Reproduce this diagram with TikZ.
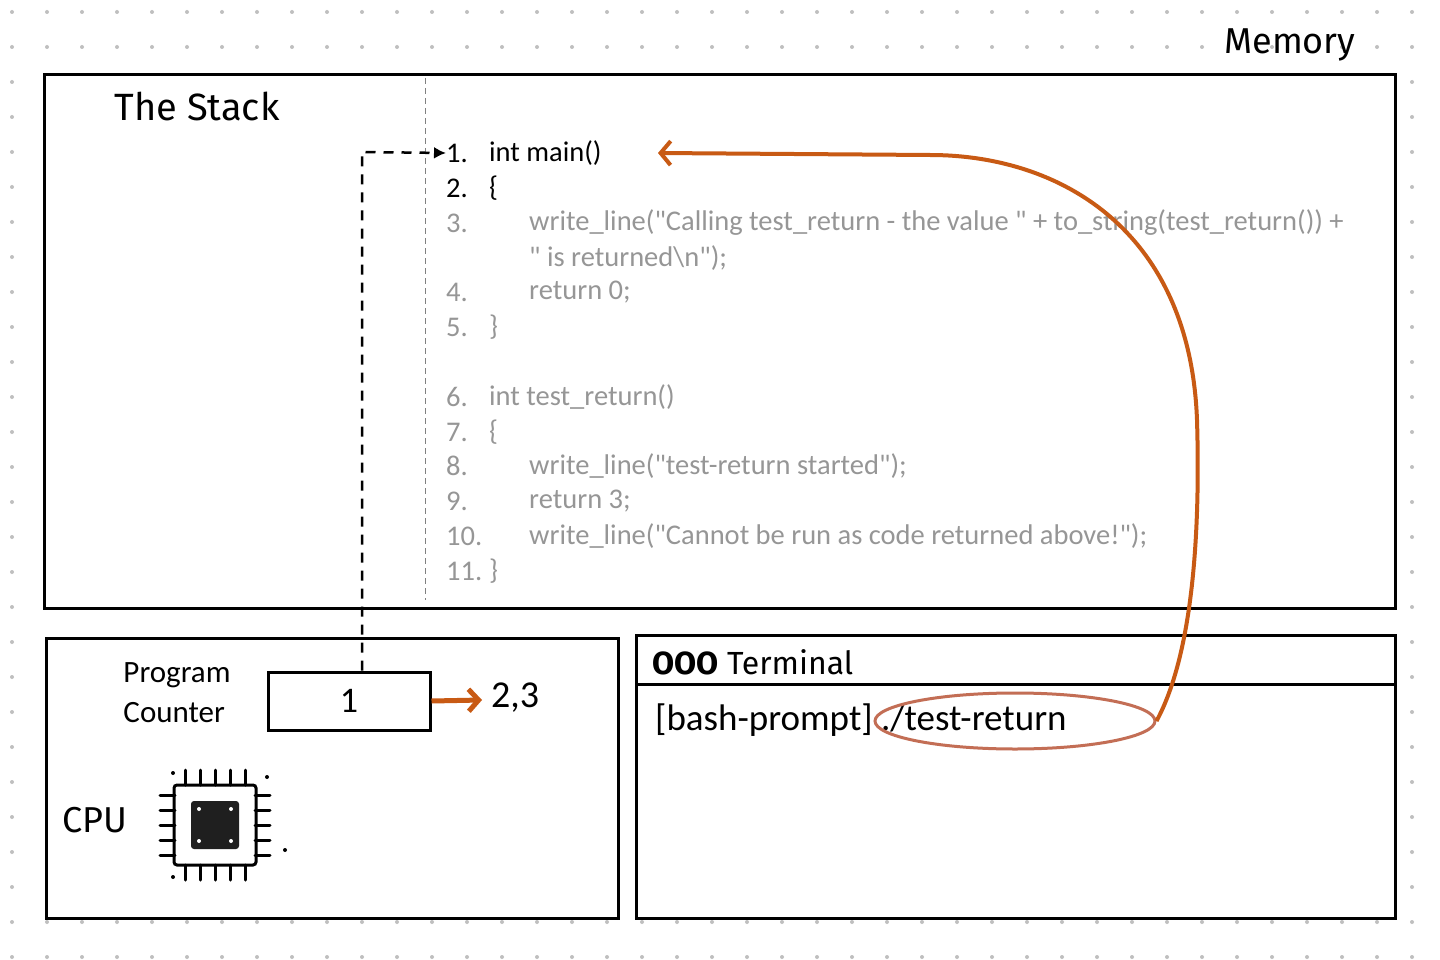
\documentclass[tikz,border=0pt]{standalone}
\usepackage{fontspec}
\setmainfont{Carlito}
\newfontfamily\codefont{Carlito}[Ligatures=TeXOff]
\newfontfamily\hand{Fira Sans}
\usetikzlibrary{arrows.meta,shapes.geometric}
\definecolor{org}{RGB}{200,90,20}
\definecolor{ell}{RGB}{195,110,85}
\definecolor{codegray}{RGB}{150,150,150}
\begin{document}
\begin{tikzpicture}[x=1pt,y=-1pt,
  box/.style={draw=black,line width=3pt},
  code/.style={anchor=west,font=\codefont\fontsize{28.5}{32}\selectfont,inner sep=0pt,text=codegray},
  codeb/.style={code,text=black},
  hand/.style={font=\hand\fontsize{36}{40}\selectfont,inner sep=0pt}]
\useasboundingbox (0,0) rectangle (1440,960);
\fill[white] (0,0) rectangle (1440,960);
\foreach \i in {0,...,41}{\foreach \j in {0,...,27}{\fill[black!25] (12+35*\i,12+35*\j) circle (2);}}
% memory
\draw[box,fill=white] (44,75) rectangle (1395,608);
\node[hand] (memt) at (1290,45) {Memory};
\node[hand,font=\hand\fontsize{38}{40}\selectfont] (stack) at (197,106) {The Stack};
\draw[black!50,dash pattern=on 6pt off 4pt,line width=1pt] (425,78) -- (425,600);
\foreach \n/\y in {1/153,2/188} {\node[codeb] (n\n) at (446,\y) {\n.};}
\foreach \n/\y in {3/223,4/292,5/327,6/397,7/432,8/466,9/501,10/536,11/571} {\node[code] (n\n) at (446,\y) {\n.};}
\node[codeb] (l1) at (489,153) {int main()};
\node[codeb] (l2) at (489,188) {\{};
\node[code] (l3) at (529,223) {write\_line("Calling test\_return - the value " + to\_string(test\_return()) +};
\node[code] (l3b) at (529,258) {" is returned\textbackslash n");};
\node[code] (l4) at (529,292) {return 0;};
\node[code] (l5) at (489,327) {\}};
\node[code] (l6) at (489,397) {int test\_return()};
\node[code] (l7) at (489,432) {\{};
\node[code] (l8) at (529,466) {write\_line("test-return started");};
\node[code] (l9) at (529,501) {return 3;};
\node[code] (l10) at (529,536) {write\_line("Cannot be run as code returned above!");};
\node[code] (l11) at (489,571) {\}};
% cpu
\draw[box,fill=white] (46,638) rectangle (618,918);
\node[align=left,font=\fontsize{31}{40}\selectfont,inner sep=0pt] (pc) at (177,693) {Program\\Counter};
\node[box,minimum width=162pt,minimum height=58pt,font=\fontsize{36}{40}\selectfont,fill=white] (pcb) at (349,701) {1};
\node[font=\fontsize{38}{40}\selectfont,inner sep=0pt,anchor=west] (v23) at (491,698) {2,3};
\draw[org,line width=5pt,-{Straight Barb[length=10pt,width=22pt]}] (pcb.east) -- (482,700);
\coordinate (c1) at (362,152);
\draw[line width=2.5pt,dash pattern=on 10pt off 8pt,-{Latex[length=12pt,width=12pt]}] (pcb.north -| 362,0) -- (c1) -- (n1.west);
\node[hand] (cpu) at (95,820) {CPU};
% chip
\begin{scope}[shift={(215,825)},line width=3pt,line cap=round]
\draw[fill=white,rounded corners=3pt] (-41,-40) rectangle (41,40);
\fill[black!88,rounded corners=3pt] (-24,-24) rectangle (24,24);
\foreach \p in {-16,16}{\foreach \q in {-16,16}{\fill[white] (\p,\q) circle (2);}}
\foreach \t in {-30,-15,0,15,30}{
 \draw (\t,-40) -- (\t,-55); \draw (\t,40) -- (\t,55);
 \draw (-40,\t) -- (-55,\t); \draw (40,\t) -- (55,\t);}
\fill (-42,-52) circle (2); \fill (52,-48) circle (2); \fill (70,25) circle (2); \fill (-42,52) circle (2);
\end{scope}
% terminal
\draw[box,fill=white] (636,635) rectangle (1395,918);
\draw[box] (636,684) -- (1395,684);
\node[hand,anchor=west,font=\hand\fontsize{32}{36}\selectfont] (term) at (652,662) {\textbf{OOO} Terminal};
\node[anchor=west,font=\fontsize{37}{40}\selectfont,inner sep=0pt] (cmd) at (655,720) {[bash-prompt] ./test-return};
\node[ellipse,draw=ell,line width=3pt,minimum width=280pt,minimum height=56pt] (el) at (1015,721) {};
\draw[org,line width=4pt,-{Straight Barb[length=10pt,width=24pt]}] (el.east) .. controls (1195,650) and (1200,520) .. (1197,420) .. controls (1190,230) and (1060,155) .. (930,155) -- (l1.east -| 658,155);
\end{tikzpicture}
\end{document}
